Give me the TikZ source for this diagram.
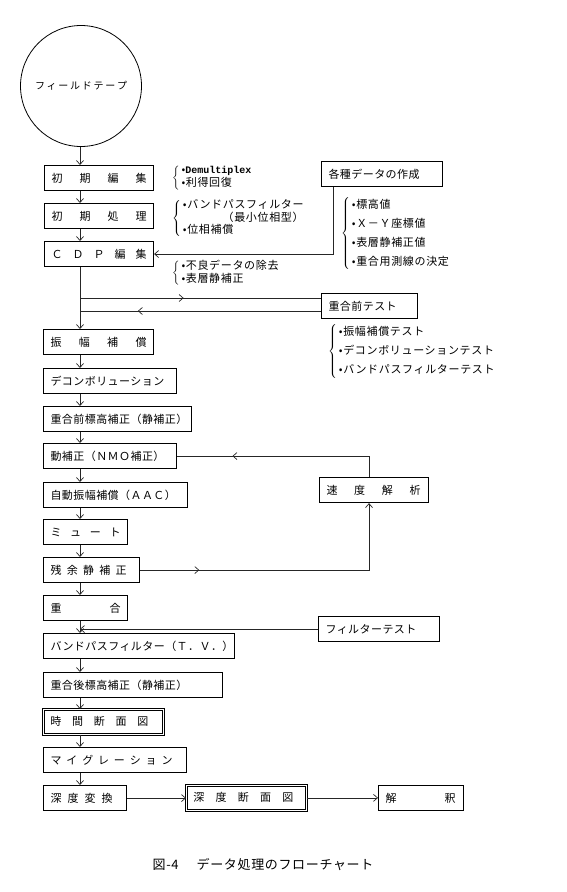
\documentclass[tikz,border=0pt]{standalone}
\usepackage{fontspec}
\setmainfont{Noto Sans CJK JP}
\setmonofont{Liberation Mono}
\newfontfamily\boxfont[LetterSpace=4]{Noto Sans CJK JP}
\newfontfamily\notefont[LetterSpace=6]{Noto Sans CJK JP}
\newfontfamily\capfont[LetterSpace=5]{Noto Sans CJK JP}
\usetikzlibrary{positioning,arrows.meta,decorations.markings}

\newcommand{\spread}[2]{\makebox[#1][s]{\spaceskip=0pt plus 1fil\relax #2}}

\tikzset{
  stage/.style={draw, line width=1.1pt, anchor=north west, minimum height=25pt,
    inner xsep=7pt, inner ysep=2pt, text width=#1, align=left,
    font=\boxfont\fontsize{11}{13}\selectfont},
  result/.style={stage=#1, double, line width=0.7pt, double distance=1.3pt},
  note/.style={anchor=west, inner sep=0pt},
  flow/.style={line width=0.7pt, draw=black!85, -{Straight Barb[length=4pt,width=7pt]}},
  link/.style={line width=0.7pt, draw=black!85},
  arrowat/.style={postaction={decorate}, decoration={markings,
    mark=at position #1 with {\arrow{Straight Barb[length=4pt,width=7pt]}}}},
}

\begin{document}
\begin{tikzpicture}[x=1pt, y=-1pt]
    \useasboundingbox (0,0) rectangle (566,892);
    \coordinate (spine) at (80,0);

    % main column
    \node[draw, circle, line width=0.8pt, minimum size=121pt, font=\fontsize{10}{12}\selectfont] (tape) at (81,86) {\spread{92pt}{フ ィ ー ル ド テ ー プ}};
    \node[stage=95pt] (b1) at (44,165) {\spread{95pt}{初 期 編 集}};
    \node[stage=95pt] (b2) at (44,203) {\spread{95pt}{初 期 処 理}};
    \node[stage=95pt] (cdp) at (44,241) {\spread{95pt}{Ｃ Ｄ Ｐ 編 集}};
    \node[stage=96pt] (amp) at (43,329) {\spread{96pt}{振 幅 補 償}};
    \node[stage=119pt] (decon) at (43,368) {デコンボリューション};
    \node[stage=134pt] (prestatic) at (43,406) {重合前標高補正（静補正）};
    \node[stage=119pt] (nmo) at (43,443) {動補正（ＮＭＯ補正）};
    \node[stage=130pt] (aac) at (43,482) {自動振幅補償（ＡＡＣ）};
    \node[stage=70pt] (mute) at (43,519) {\spread{70pt}{ミ ュ ー ト}};
    \node[stage=82pt] (resid) at (43,557) {\spread{76pt}{残 余 静 補 正}};
    \node[stage=70pt] (stack) at (43,595) {\spread{70pt}{重 合}};
    \node[stage=177pt] (bpf) at (43,633) {バンドパスフィルター（Ｔ．Ｖ．）};
    \node[stage=165pt] (poststatic) at (43,672) {重合後標高補正（静補正）};
    \node[result=106pt] (timesec) at (43,709) {\spread{98pt}{時 間 断 面 図}};
    \node[stage=129pt] (migr) at (43,747) {\spread{122pt}{マ イ グ レ ー シ ョ ン}};
    \node[stage=69pt] (depthconv) at (43,785) {\spread{62pt}{深 度 変 換}};
    \node[result=106pt] (depthsec) at (186,785) {\spread{100pt}{深 度 断 面 図}};
    \node[stage=71pt] (interp) at (378,785) {\spread{70pt}{解 釈}};

    % side boxes
    \node[stage=107pt] (data) at (321,161) {各種データの作成};
    \node[stage=82pt] (pretest) at (321,293) {重合前テスト};
    \node[stage=95pt] (velan) at (319,477) {\spread{94pt}{速 度 解 析}};
    \node[stage=107pt] (filtest) at (318,616) {フィルターテスト};

    % notes
    \node[note, font=\notefont\fontsize{11}{12}\selectfont] (note1) at (172,178) {$\left\{\begin{tabular}{@{\,}l@{}}•{\ttfamily\bfseries\fontsize{10}{12}\selectfont Demultiplex}\\•利得回復\end{tabular}\right.$};
    \node[note, font=\notefont\fontsize{11}{10.5}\selectfont] (note2) at (172,218) {$\left\{\begin{tabular}{@{\,}l@{}}•バンドパスフィルター\\\hfill（最小位相型）\\•位相補償\end{tabular}\right.$};
    \node[note, font=\notefont\fontsize{11}{11.5}\selectfont] (note3) at (172,273) {$\left\{\begin{tabular}{@{\,}l@{}}•不良データの除去\\•表層静補正\end{tabular}\right.$};
    \node[note, font=\notefont\fontsize{11}{19}\selectfont] (note4) at (341,233) {$\left\{\begin{tabular}{@{\,}l@{}}•標高値\\•Ｘ－Ｙ座標値\\•表層静補正値\\•重合用測線の決定\end{tabular}\right.$};
    \node[note, font=\notefont\fontsize{11}{19}\selectfont] (note5) at (328,351) {$\left\{\begin{tabular}{@{\,}l@{}}•振幅補償テスト\\•デコンボリューションテスト\\•バンドパスフィルターテスト\end{tabular}\right.$};

    % caption
    \node[font=\capfont\fontsize{13}{15}\selectfont] (caption) at (263,865) {図-4\hspace{18pt}データ処理のフローチャート};

    % main flow
    \draw[flow] (tape.south -| spine) -- (b1.north -| spine);
    \draw[flow] (b1.south -| spine) -- (b2.north -| spine);
    \draw[flow] (b2.south -| spine) -- (cdp.north -| spine);
    \draw[flow] (cdp.south -| spine) -- (amp.north -| spine);
    \draw[flow] (amp.south -| spine) -- (decon.north -| spine);
    \draw[flow] (decon.south -| spine) -- (prestatic.north -| spine);
    \draw[flow] (prestatic.south -| spine) -- (nmo.north -| spine);
    \draw[flow] (nmo.south -| spine) -- (aac.north -| spine);
    \draw[flow] (aac.south -| spine) -- (mute.north -| spine);
    \draw[flow] (mute.south -| spine) -- (resid.north -| spine);
    \draw[flow] (resid.south -| spine) -- (stack.north -| spine);
    \draw[flow] (stack.south -| spine) -- (bpf.north -| spine);
    \draw[flow] (bpf.south -| spine) -- (poststatic.north -| spine);
    \draw[flow] (poststatic.south -| spine) -- (timesec.north -| spine);
    \draw[flow] (timesec.south -| spine) -- (migr.north -| spine);
    \draw[flow] (migr.south -| spine) -- (depthconv.north -| spine);
    \draw[flow] (depthconv.east) -- (depthconv.east -| depthsec.west);
    \draw[flow] (depthsec.east) -- (depthsec.east -| interp.west);

    % side loops
    \draw[flow] ([xshift=-49pt]data.south) |- (cdp.east);
    \coordinate (fork) at (80,298);
    \coordinate (join) at (80,311);
    \draw[link, arrowat=0.43] (fork) -- (fork -| pretest.west);
    \draw[link, arrowat=0.76] (join -| pretest.west) -- (join);
    \draw[link, arrowat=0.74] ([xshift=-5pt]velan.north) |- (nmo.east);
    \draw[flow, arrowat=0.2] (resid.east) -| ([xshift=-5pt]velan.south);
    \draw[flow] (filtest.west) -- (filtest.west -| spine);
\end{tikzpicture}
\end{document}
